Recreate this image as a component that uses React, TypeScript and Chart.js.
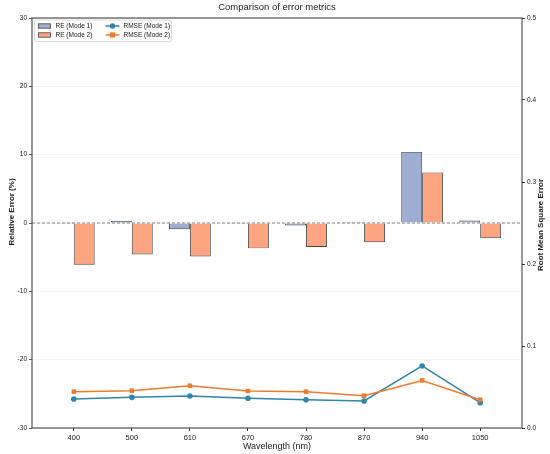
import { useEffect, useRef } from 'react'
import Chart from 'chart.js/auto'

const wavelengths = ['400', '500', '610', '670', '780', '870', '940', '1050']
const reMode1 = [-0.1, 0.3, -0.9, -0.1, -0.35, 0.15, 10.4, 0.35]
const reMode2 = [-6.1, -4.6, -4.9, -3.7, -3.5, -2.8, 7.4, -2.2]
const rmseMode1 = [0.0354, 0.0374, 0.039, 0.0362, 0.0345, 0.033, 0.0757, 0.0309]
const rmseMode2 = [0.0443, 0.0455, 0.0516, 0.0451, 0.0443, 0.0394, 0.058, 0.0345]

const FONT = "'Liberation Sans', Arial, sans-serif"
const BAR1 = 'rgba(141,160,203,0.85)'
const BAR2 = 'rgba(252,141,98,0.8)'
const LINE1 = '#2E86AB'
const LINE2 = '#EE7A2C'
const TEXT = '#222'

const decorations = {
  id: 'decorations',
  beforeDatasetsDraw(chart: any) {
    const { ctx, chartArea, scales } = chart
    const y0 = scales.y.getPixelForValue(0)
    ctx.save()
    ctx.strokeStyle = '#777'
    ctx.lineWidth = 0.9
    ctx.setLineDash([3, 2])
    ctx.beginPath()
    ctx.moveTo(chartArea.left, y0)
    ctx.lineTo(chartArea.right, y0)
    ctx.stroke()
    ctx.restore()
  },
  afterDraw(chart: any) {
    const { ctx, chartArea } = chart
    const { left, right, top, bottom } = chartArea
    ctx.save()
    // frame
    ctx.strokeStyle = '#333'
    ctx.lineWidth = 1
    ctx.strokeRect(left, top, right - left, bottom - top)

    // titles
    ctx.fillStyle = TEXT
    ctx.textAlign = 'center'
    ctx.textBaseline = 'middle'
    ctx.font = `9.5px ${FONT}`
    ctx.fillText('Comparison of error metrics', (left + right) / 2, 7.5)
    ctx.font = `9px ${FONT}`
    ctx.fillText('Wavelength (nm)', 277, 446.5)

    ctx.font = `bold 8px ${FONT}`
    ctx.save()
    ctx.translate(12, 212)
    ctx.rotate(-Math.PI / 2)
    ctx.fillText('Relative Error (%)', 0, 0)
    ctx.restore()
    ctx.save()
    ctx.translate(540.5, 225)
    ctx.rotate(-Math.PI / 2)
    ctx.fillText('Root Mean Square Error', 0, 0)
    ctx.restore()

    // legend
    const lx = left + 2.5
    const ly = top + 2
    ctx.fillStyle = 'rgba(255,255,255,0.85)'
    ctx.strokeStyle = '#d0d0d0'
    ctx.lineWidth = 0.8
    ctx.beginPath()
    ctx.roundRect(lx, ly, 137, 21.5, 2)
    ctx.fill()
    ctx.stroke()

    ctx.font = `6.5px ${FONT}`
    ctx.textAlign = 'left'
    const rows = [ly + 6, ly + 15]
    const patches = [
      { fill: BAR1, label: 'RE (Mode 1)' },
      { fill: BAR2, label: 'RE (Mode 2)' },
    ]
    patches.forEach((p, i) => {
      ctx.fillStyle = p.fill
      ctx.fillRect(lx + 4, rows[i] - 2.2, 12, 4.4)
      ctx.strokeStyle = '#444'
      ctx.lineWidth = 0.8
      ctx.strokeRect(lx + 4, rows[i] - 2.2, 12, 4.4)
      ctx.fillStyle = TEXT
      ctx.fillText(p.label, lx + 21, rows[i] + 0.5)
    })
    const lines = [
      { color: LINE1, label: 'RMSE (Mode 1)', square: false },
      { color: LINE2, label: 'RMSE (Mode 2)', square: true },
    ]
    lines.forEach((l, i) => {
      ctx.strokeStyle = l.color
      ctx.lineWidth = 1.5
      ctx.beginPath()
      ctx.moveTo(lx + 71, rows[i])
      ctx.lineTo(lx + 85, rows[i])
      ctx.stroke()
      ctx.fillStyle = l.color
      if (l.square) {
        ctx.fillRect(lx + 78 - 2.6, rows[i] - 2.6, 5.2, 5.2)
      } else {
        ctx.beginPath()
        ctx.arc(lx + 78, rows[i], 2.7, 0, Math.PI * 2)
        ctx.fill()
      }
      ctx.fillStyle = TEXT
      ctx.fillText(l.label, lx + 89, rows[i] + 0.5)
    })
    ctx.restore()
  },
}

function ErrorChart() {
  const chartRef = useRef<HTMLCanvasElement>(null)

  useEffect(() => {
    if (!chartRef.current) return
    Chart.defaults.font.family = FONT
    const toPts = (arr: number[]) => arr.map((v, i) => ({ x: i, y: v }))
    const chart = new Chart(chartRef.current, {
      type: 'bar',
      data: {
        datasets: [
          {
            type: 'line',
            label: 'RMSE (Mode 1)',
            data: toPts(rmseMode1),
            yAxisID: 'y1',
            borderColor: LINE1,
            backgroundColor: LINE1,
            borderWidth: 1.5,
            pointRadius: 2.8,
            pointStyle: 'circle',
            pointBorderWidth: 0,
            order: 1,
          },
          {
            type: 'line',
            label: 'RMSE (Mode 2)',
            data: toPts(rmseMode2),
            yAxisID: 'y1',
            borderColor: LINE2,
            backgroundColor: LINE2,
            borderWidth: 1.5,
            pointRadius: 3.2,
            pointStyle: 'rect',
            pointBorderWidth: 0,
            order: 0,
          },
          {
            type: 'bar',
            label: 'RE (Mode 1)',
            data: toPts(reMode1),
            yAxisID: 'y',
            backgroundColor: BAR1,
            borderColor: '#444',
            borderWidth: 0.9,
            categoryPercentage: 0.72,
            barPercentage: 1,
            order: 2,
          },
          {
            type: 'bar',
            label: 'RE (Mode 2)',
            data: toPts(reMode2),
            yAxisID: 'y',
            backgroundColor: BAR2,
            borderColor: '#444',
            borderWidth: 0.9,
            categoryPercentage: 0.72,
            barPercentage: 1,
            order: 2,
          },
        ] as any,
      },
      options: {
        animation: false,
        responsive: true,
        maintainAspectRatio: false,
        layout: { padding: { top: 18, left: 0, right: 0, bottom: 0 } },
        plugins: {
          legend: { display: false },
          title: { display: false },
          tooltip: { enabled: false },
        },
        scales: {
          x: {
            type: 'linear',
            offset: false,
            min: -0.72,
            max: 7.72,
            afterBuildTicks: (scale: any) => {
              scale.ticks = wavelengths.map((_, i) => ({ value: i }))
            },
            afterFit: (scale: any) => {
              scale.height = 26
            },
            ticks: {
              color: TEXT,
              font: { size: 7.5 },
              padding: 2,
              autoSkip: false,
              maxRotation: 0,
              callback: (v: any) => wavelengths[v as number] ?? '',
            },
            grid: {
              offset: false,
              drawOnChartArea: false,
              drawTicks: true,
              tickLength: 3,
              tickColor: '#333',
            },
            border: { display: false },
          },
          y: {
            position: 'left',
            min: -30,
            max: 30,
            afterFit: (scale: any) => {
              scale.width = 32
            },
            ticks: {
              stepSize: 10,
              color: TEXT,
              font: { size: 6.5 },
              padding: 2,
            },
            grid: {
              color: 'rgba(0,0,0,0.06)',
              lineWidth: 0.8,
              tickLength: 3,
              tickColor: '#333',
            },
            border: { display: false },
          },
          y1: {
            position: 'right',
            min: 0,
            max: 0.5,
            afterFit: (scale: any) => {
              scale.width = 28
            },
            ticks: {
              stepSize: 0.1,
              color: TEXT,
              font: { size: 6.5 },
              padding: 2,
              callback: (v: any) => Number(v).toFixed(1),
            },
            grid: {
              drawOnChartArea: false,
              tickLength: 3,
              tickColor: '#333',
            },
            border: { display: false },
          },
        },
      },
      plugins: [decorations],
    })

    return () => {
      chart.destroy()
    }
  }, [])

  return <canvas ref={chartRef} />
}

export default function App() {
  return (
    <div style={{ position: 'fixed', left: 0, top: 0, width: 550, height: 454, background: '#fff' }}>
      <ErrorChart />
    </div>
  )
}
